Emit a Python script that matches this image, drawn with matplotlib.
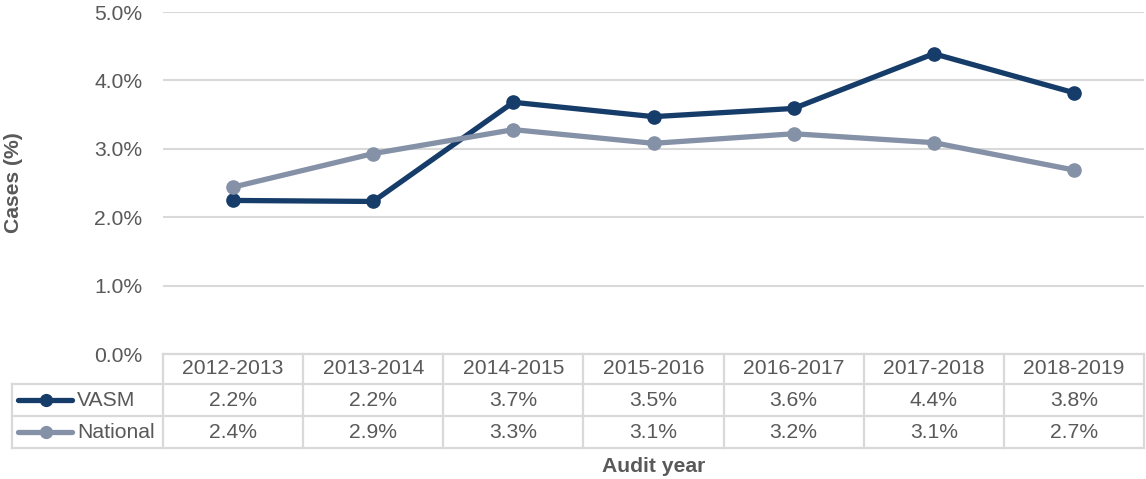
import matplotlib
matplotlib.use("Agg")
import matplotlib.pyplot as plt
from matplotlib.lines import Line2D
import matplotlib.transforms as mtransforms

plt.rcParams['font.family'] = ['Liberation Sans', 'DejaVu Sans']

years = ["2012-2013", "2013-2014", "2014-2015", "2015-2016", "2016-2017", "2017-2018", "2018-2019"]
series_names = ["VASM", "National"]
vasm = [2.245, 2.23, 3.68, 3.47, 3.59, 4.39, 3.82]
national = [2.44, 2.93, 3.28, 3.08, 3.22, 3.09, 2.69]
yticks = [0, 1, 2, 3, 4, 5]

colors = ["#163C6A", "#8591A7"]
text_color = "#595959"
grid_color = "#D9D9D9"
fs = 15.2

W, H = 1146, 479
fig = plt.figure(figsize=(W / 100, H / 100), dpi=100)
left_px, right_px, top_px, bottom_px = 163, 1144, 12, 354
ax = fig.add_axes([left_px / W, 1 - bottom_px / H, (right_px - left_px) / W, (bottom_px - top_px) / H])

x = list(range(len(years)))
for vals, c in zip([vasm, national], colors):
    ax.plot(x, vals, color=c, lw=3.8, marker='o', ms=9.5, solid_capstyle='round', zorder=3)

ax.set_xlim(-0.5, len(years) - 0.5)
ax.set_ylim(0, 5)
ax.set_yticks(yticks)
ax.set_yticklabels([f"{v:.1f}%" for v in yticks], fontsize=fs, color=text_color)
ax.tick_params(axis='y', length=0, pad=15)
ax.set_xticks([])
for s in ax.spines.values():
    s.set_visible(False)
ax.grid(axis='y', color=grid_color, lw=1.5)
ax.set_axisbelow(True)

# Data table
ax_h = bottom_px - top_px
ax_w = right_px - left_px
def ay(py):
    return (bottom_px - py) / ax_h
def ax_x(px):
    return (px - left_px) / ax_w

row_edges = [354, 384, 416, 448]
trans_axes = ax.transAxes
trans_blend = mtransforms.blended_transform_factory(ax.transData, ax.transAxes)
lw_t = 1.6

# horizontal lines
ax.add_line(Line2D([0, 1], [ay(row_edges[0])] * 2, transform=trans_axes, color=grid_color, lw=lw_t, clip_on=False))
for r in row_edges[1:]:
    ax.add_line(Line2D([ax_x(12), 1], [ay(r)] * 2, transform=trans_axes, color=grid_color, lw=lw_t, clip_on=False))
# vertical lines
for i in range(len(years) + 1):
    xb = i - 0.5
    ax.add_line(Line2D([xb, xb], [ay(row_edges[0]), ay(row_edges[-1])], transform=trans_blend,
                       color=grid_color, lw=lw_t, clip_on=False))
ax.add_line(Line2D([ax_x(12), ax_x(12)], [ay(row_edges[1]), ay(row_edges[-1])], transform=trans_axes,
                   color=grid_color, lw=lw_t, clip_on=False))

# header
hy = ay((row_edges[0] + row_edges[1]) / 2)
for i, yr in enumerate(years):
    ax.text(i, hy, yr, transform=trans_blend, ha='center', va='center', fontsize=fs, color=text_color, clip_on=False)

# rows
for r, (name, vals, c) in enumerate(zip(series_names, [vasm, national], colors)):
    cy = ay((row_edges[r + 1] + row_edges[r + 2]) / 2)
    ax.add_line(Line2D([ax_x(18), ax_x(72)], [cy, cy], transform=trans_axes, color=c, lw=3.8,
                       solid_capstyle='round', clip_on=False))
    ax.add_line(Line2D([ax_x(46)], [cy], transform=trans_axes, color=c, marker='o', ms=8.5, clip_on=False))
    ax.text(ax_x(77), cy, name, transform=trans_axes, ha='left', va='center', fontsize=fs,
            color=text_color, clip_on=False)
    for i, v in enumerate(vals):
        ax.text(i, cy, f"{v:.1f}%", transform=trans_blend, ha='center', va='center', fontsize=fs,
                color=text_color, clip_on=False)

fig.text(14 / W, 1 - 183 / H, "Cases (%)", rotation=90, ha='center', va='center', fontsize=fs,
         fontweight='bold', color=text_color)
fig.text(654 / W, 1 - 467 / H, "Audit year", ha='center', va='center', fontsize=fs,
         fontweight='bold', color=text_color)

fig.savefig("out.png", dpi=100)
